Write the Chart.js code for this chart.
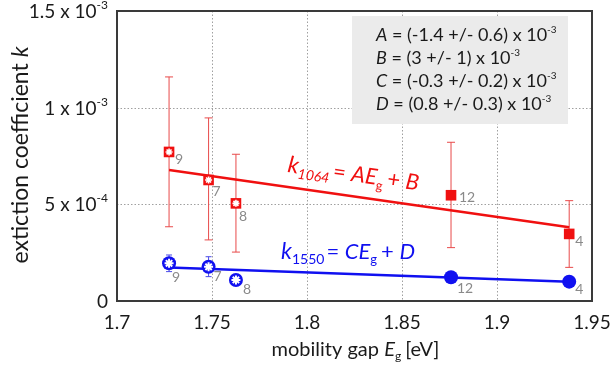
<!DOCTYPE html>
<html><head><meta charset="utf-8">
<script src="https://cdn.jsdelivr.net/npm/chart.js@4"></script>
<style>html,body{margin:0;padding:0;background:#fff}#w{width:610px;height:366px}</style>
</head><body><div id="w"><canvas id="c"></canvas></div>
<script>
const xTicks = [1.7, 1.75, 1.8, 1.85, 1.9, 1.95];
const yTicks = [0, 5e-4, 1e-3, 1.5e-3];
const yTickMant = ['0', '5', '1', '1.5'];
const yTickExp = [null, '-4', '-3', '-3'];
const gap = [1.7274, 1.7482, 1.7626, 1.8758, 1.938];
const k1064 = [0.771e-3, 0.626e-3, 0.505e-3, 0.547e-3, 0.347e-3];
const k1064Hi = [1.159e-3, 0.947e-3, 0.759e-3, 0.821e-3, 0.519e-3];
const k1064Lo = [0.384e-3, 0.316e-3, 0.253e-3, 0.276e-3, 0.174e-3];
const k1550 = [0.195e-3, 0.177e-3, 0.109e-3, 0.123e-3, 0.100e-3];
const k1550Hi = [0.238e-3, 0.229e-3, 0.109e-3, 0.143e-3, 0.100e-3];
const k1550Lo = [0.152e-3, 0.126e-3, 0.109e-3, 0.103e-3, 0.100e-3];
const counts = ['9', '7', '8', '12', '4'];
const starred = [true, true, true, false, false];
const fitRed = [[1.7274, 0.678e-3], [1.938, 0.381e-3]];
const fitBlue = [[1.7274, 0.173e-3], [1.938, 0.099e-3]];
const boxLines = [['A', '(-1.4 +/- 0.6) x 10'], ['B', '(3 +/- 1) x 10'], ['C', '(-0.3 +/- 0.2) x 10'], ['D', '(0.8 +/- 0.3) x 10']];

const RED = '#f01010', BLUE = '#1010f0', FF = 'Lato, "Open Sans", sans-serif';

function rich(ctx, parts, x, y, align) {
  let w = 0;
  parts.forEach(p => { ctx.font = p.f; w += ctx.measureText(p.t).width + (p.sp || 0); });
  let cx = align === 'right' ? x - w : align === 'center' ? x - w / 2 : x;
  parts.forEach(p => { ctx.font = p.f; ctx.fillText(p.t, cx, y + (p.dy || 0)); cx += ctx.measureText(p.t).width + (p.sp || 0); });
}

function star(ctx, x, y, r) {
  ctx.beginPath();
  for (let j = 0; j < 4; j++) {
    const t = j * Math.PI / 4;
    ctx.moveTo(x - r * Math.cos(t), y - r * Math.sin(t));
    ctx.lineTo(x + r * Math.cos(t), y + r * Math.sin(t));
  }
  ctx.stroke();
}

const deco = {
  id: 'deco',
  afterDatasetsDraw(chart) {
    const ctx = chart.ctx, xs = chart.scales.x, ys = chart.scales.y, a = chart.chartArea;
    ctx.save();
    // frame
    ctx.strokeStyle = '#3a3a3a'; ctx.lineWidth = 2;
    ctx.strokeRect(a.left, a.top, a.right - a.left, a.bottom - a.top);
    // box
    ctx.fillStyle = '#ebebeb';
    ctx.fillRect(a.left + 235, a.top + 5, 216, 108);
    ctx.fillStyle = '#1a1a1a'; ctx.textBaseline = 'alphabetic';
    boxLines.forEach((l, i) => {
      const y = a.top + 30 + i * 23;
      rich(ctx, [{t: l[0], f: 'italic 18px ' + FF}, {t: ' = ' + l[1], f: '18px ' + FF}, {t: '-3', f: '10px ' + FF, dy: -8}], a.left + 259, y, 'left');
    });
    // tick labels
    ctx.fillStyle = '#1a1a1a';
    yTicks.forEach((v, i) => {
      const y = ys.getPixelForValue(v) + 7;
      if (yTickExp[i]) rich(ctx, [{t: yTickMant[i] + ' x 10', f: '19px ' + FF}, {t: yTickExp[i], f: '12px ' + FF, dy: -9}], a.left - 9, y, 'right');
      else rich(ctx, [{t: yTickMant[i], f: '19px ' + FF}], a.left - 9, y, 'right');
    });
    xTicks.forEach(v => { rich(ctx, [{t: String(v), f: '19px ' + FF}], xs.getPixelForValue(v), a.bottom + 28, 'center'); });
    rich(ctx, [{t: 'mobility gap ', f: '20px ' + FF}, {t: 'E', f: 'italic 20px ' + FF}, {t: 'g', f: '12px ' + FF, dy: 4, sp: 4}, {t: '[eV]', f: '20px ' + FF}], (a.left + a.right) / 2 + 1, a.bottom + 55, 'center');
    ctx.save(); ctx.translate(28, 155); ctx.rotate(-Math.PI / 2);
    rich(ctx, [{t: 'extiction coefficient ', f: '23px ' + FF}, {t: 'k', f: 'italic 23px ' + FF}], 0, 0, 'center');
    ctx.restore();
    // fit labels
    ctx.fillStyle = RED;
    ctx.save(); ctx.translate(287, 172); ctx.rotate(0.14);
    rich(ctx, [{t: 'k', f: 'italic 23px ' + FF}, {t: '1064', f: 'italic 14px ' + FF, dy: 5, sp: 3}, {t: '= ', f: '22px ' + FF}, {t: 'AE', f: 'italic 22px ' + FF}, {t: 'g', f: '13px ' + FF, dy: 5, sp: 4}, {t: '+ ', f: '22px ' + FF}, {t: 'B', f: 'italic 22px ' + FF}], 0, 0, 'left');
    ctx.restore();
    ctx.fillStyle = BLUE;
    rich(ctx, [{t: 'k', f: 'italic 23px ' + FF}, {t: '1550', f: '14px ' + FF, dy: 5, sp: 2}, {t: '= ', f: '22px ' + FF}, {t: 'CE', f: 'italic 22px ' + FF}, {t: 'g', f: '13px ' + FF, dy: 5, sp: 4}, {t: '+ ', f: '22px ' + FF}, {t: 'D', f: 'italic 22px ' + FF}], 281, 259, 'left');
    // asterisks & counts
    const offR = [[10, 8], [8, 12], [7, 13], [16, 2], [10, 8]];
    const offB = [[7, 14], [9, 10], [11, 10], [14, 11], [10, 8]];
    ctx.textAlign = 'center'; ctx.textBaseline = 'middle';
    gap.forEach((g, i) => {
      const x = xs.getPixelForValue(g);
      const yr = ys.getPixelForValue(k1064[i]), yb = ys.getPixelForValue(k1550[i]);
      if (starred[i]) {
        ctx.strokeStyle = '#fff'; ctx.lineWidth = 1.6;
        star(ctx, x, yr, 3.5);
        ctx.lineWidth = 2; star(ctx, x, yb, 4.5);
      }
      ctx.fillStyle = '#8a8a8a'; ctx.font = '14px ' + FF;
      ctx.fillText(counts[i], x + offR[i][0], yr + offR[i][1]);
      ctx.fillText(counts[i], x + offB[i][0], yb + offB[i][1]);
    });
    ctx.restore();
  },
  beforeDatasetsDraw(chart) {
    const ctx = chart.ctx, xs = chart.scales.x, ys = chart.scales.y, a = chart.chartArea;
    ctx.save();
    // dotted grid
    ctx.strokeStyle = '#a0a0a0'; ctx.lineWidth = 1; ctx.setLineDash([1.5, 2]);
    ctx.beginPath();
    xTicks.forEach(v => { const x = Math.round(xs.getPixelForValue(v)) + 0.5; ctx.moveTo(x, a.top); ctx.lineTo(x, a.bottom); });
    yTicks.forEach(v => { const y = Math.round(ys.getPixelForValue(v)) + 0.5; ctx.moveTo(a.left, y); ctx.lineTo(a.right, y); });
    ctx.stroke();
    ctx.setLineDash([]);
    const bars = (hi, lo, col, cap) => {
      ctx.strokeStyle = col;
      gap.forEach((g, i) => {
        if (hi[i] === lo[i]) return;
        const x = xs.getPixelForValue(g), y1 = ys.getPixelForValue(hi[i]), y2 = ys.getPixelForValue(lo[i]);
        ctx.beginPath(); ctx.moveTo(x, y1); ctx.lineTo(x, y2);
        ctx.moveTo(x - cap, y1); ctx.lineTo(x + cap, y1);
        ctx.moveTo(x - cap, y2); ctx.lineTo(x + cap, y2); ctx.stroke();
      });
    };
    bars(k1064Hi, k1064Lo, '#e84a4a', 4);
    bars(k1550Hi, k1550Lo, '#4a4ae8', 3);
    ctx.restore();
  }
};

new Chart(document.getElementById('c'), {
  type: 'scatter',
  data: {
    datasets: [
      {type: 'line', data: fitRed.map(p => ({x: p[0], y: p[1]})), borderColor: RED, borderWidth: 2.5, pointRadius: 0, fill: false},
      {type: 'line', data: fitBlue.map(p => ({x: p[0], y: p[1]})), borderColor: BLUE, borderWidth: 2.5, pointRadius: 0, fill: false},
      {data: gap.map((g, i) => ({x: g, y: k1064[i]})), pointStyle: 'rect', pointRadius: 7.5, backgroundColor: RED, borderColor: RED, borderWidth: 0},
      {data: gap.map((g, i) => ({x: g, y: k1550[i]})), pointStyle: 'circle', pointRadius: 7, backgroundColor: BLUE, borderColor: BLUE, borderWidth: 0}
    ]
  },
  options: {
    responsive: true, maintainAspectRatio: false, animation: false,
    layout: {padding: {left: 117, top: 11, right: 18, bottom: 65}},
    plugins: {legend: {display: false}, tooltip: {enabled: false}},
    scales: {
      x: {type: 'linear', display: false, min: 1.7, max: 1.95},
      y: {type: 'linear', display: false, min: 0, max: 1.5e-3}
    }
  },
  plugins: [deco]
});
</script></body></html>
